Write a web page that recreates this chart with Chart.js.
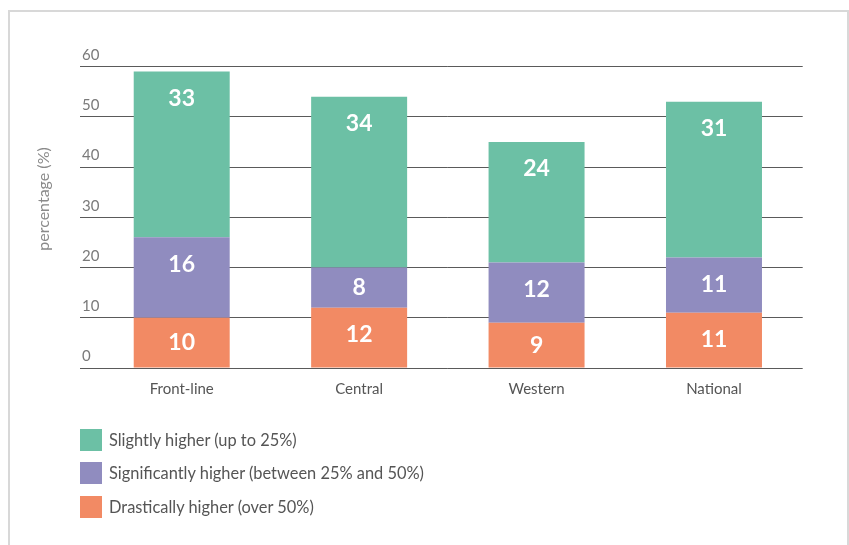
<!DOCTYPE html>
<html>
<head>
<meta charset="utf-8">
<script src="https://cdn.jsdelivr.net/npm/chart.js@4.4.0/dist/chart.umd.min.js"></script>
<style>
  html, body { margin: 0; padding: 0; background: #fff; width: 849px; height: 545px; overflow: hidden; }
  #wrap { position: relative; width: 849px; height: 545px; }
  #frame { position: absolute; left: 8px; top: 10px; width: 841px; height: 600px; box-sizing: border-box;
           border: 2px solid #d8d8d8; border-bottom: none; pointer-events: none; }
  canvas { position: absolute; left: 0; top: 0; }
  #ytitle { position: absolute; left: 42px; top: 199px; transform: translate(-50%, -50%) rotate(-90deg);
            font-family: Lato, sans-serif; font-size: 16px; color: #8a8a8a; white-space: nowrap; }
  #legend { position: absolute; left: 80px; top: 429px; font-family: Lato, sans-serif; font-size: 16.4px; color: #555; }
  .li { position: relative; height: 22px; margin-bottom: 11.3px; }
  .sw { position: absolute; left: 0; top: 0; width: 22px; height: 22px; }
  .lt { position: absolute; left: 29px; top: 0; line-height: 22px; white-space: nowrap; }
</style>
</head>
<body>
<div id="wrap">
  <canvas id="c" width="849" height="545"></canvas>
  <div id="frame"></div>
  <div id="ytitle">percentage (%)</div>
  <div id="legend"></div>
</div>
<script>
const categories = ["Front-line", "Central", "Western", "National"];
const drastically = [10, 12, 9, 11];
const significantly = [16, 8, 12, 11];
const slightly = [33, 34, 24, 31];
const yTicks = [0, 10, 20, 30, 40, 50, 60];
const seriesNames = ["Drastically higher (over 50%)", "Significantly higher (between 25% and 50%)", "Slightly higher (up to 25%)"];
const seriesColors = ["#f28a64", "#908cbf", "#6cc0a5"];
const yTitle = "percentage (%)";

const FONT = "Lato, sans-serif";

const barLabels = {
  id: 'barLabels',
  afterDatasetsDraw(chart) {
    const ctx = chart.ctx;
    ctx.save();
    ctx.fillStyle = '#ffffff';
    ctx.font = 'bold 23px ' + FONT;
    ctx.textAlign = 'center';
    ctx.textBaseline = 'middle';
    chart.data.datasets.forEach((ds, i) => {
      const meta = chart.getDatasetMeta(i);
      meta.data.forEach((el, j) => {
        const p = el.getProps(['x', 'y', 'base'], true);
        const top = Math.min(p.y, p.base);
        const center = (p.y + p.base) / 2;
        const ly = Math.min(center, top + 27);
        ctx.fillText(String(ds.data[j]), p.x, ly);
      });
    });
    ctx.restore();
  }
};

new Chart(document.getElementById('c'), {
  type: 'bar',
  data: {
    labels: categories,
    datasets: [
      { label: seriesNames[0], data: drastically, backgroundColor: seriesColors[0] },
      { label: seriesNames[1], data: significantly, backgroundColor: seriesColors[1] },
      { label: seriesNames[2], data: slightly, backgroundColor: seriesColors[2] }
    ]
  },
  options: {
    responsive: false,
    animation: false,
    devicePixelRatio: 1,
    layout: { padding: { left: 82, top: 66.5, right: 46.3, bottom: 0 } },
    datasets: { bar: { barPercentage: 0.541, categoryPercentage: 1.0 } },
    plugins: { legend: { display: false }, tooltip: { enabled: false } },
    scales: {
      x: {
        stacked: true,
        grid: { display: false },
        border: { display: false },
        ticks: { color: '#555', font: { family: FONT, size: 15 }, padding: 4 },
        afterFit(scale) { scale.height = 177; }
      },
      y: {
        stacked: true,
        min: 0, max: 60,
        afterBuildTicks(scale) { scale.ticks = yTicks.map(v => ({ value: v })); },
        grid: { color: '#5a5a5a', tickColor: '#5a5a5a', lineWidth: 1, drawTicks: true, tickLength: 13 },
        border: { display: false },
        ticks: { color: '#7a7a7a', font: { family: FONT, size: 15 }, mirror: true, crossAlign: 'near', labelOffset: -11.5, padding: -11 },
        afterFit(scale) { scale.width = 11; }
      }
    }
  },
  plugins: [barLabels]
});

const legend = document.getElementById('legend');
[2, 1, 0].forEach(i => {
  const row = document.createElement('div');
  row.className = 'li';
  row.innerHTML = '<div class="sw" style="background:' + seriesColors[i] + '"></div><div class="lt">' + seriesNames[i] + '</div>';
  legend.appendChild(row);
});
</script>
</body>
</html>
